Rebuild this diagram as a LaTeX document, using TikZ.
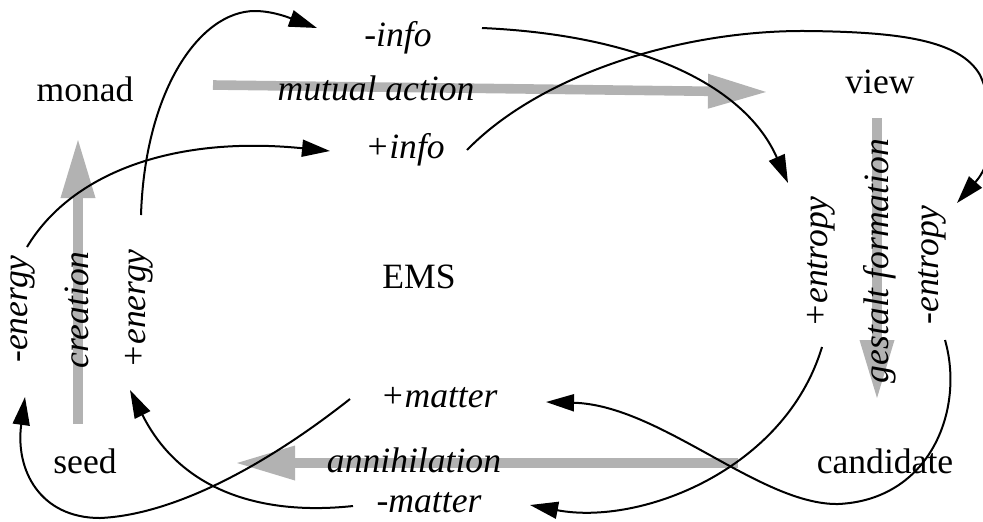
\documentclass[tikz,border=0pt]{standalone}
\usepackage{fontspec}
\setmainfont{Liberation Serif}
\usetikzlibrary{arrows.meta}

\tikzset{
  word/.style={font=\fontsize{17.8}{20}\selectfont, anchor=base, inner sep=0pt},
  term/.style={word, font=\fontsize{17.8}{20}\selectfont\itshape},
  up/.style={term, rotate=90},
  flow/.style={draw=black!30, line width=4.8pt, -{Triangle[length=30pt,width=16pt]}},
  link/.style={draw, line width=1pt, -{Triangle[length=14pt,width=8.5pt]}}
}

\begin{document}
\begin{tikzpicture}[x=0.5pt, y=-0.5pt]
\useasboundingbox (0,0) rectangle (983,521);
\coordinate (mon-r) at (213,85);  \coordinate (vw-l) at (768,92);
\coordinate (vw-d) at (877,118);  \coordinate (cnd-u) at (877,400);
\coordinate (cnd-l) at (738,463); \coordinate (sd-r) at (235,463);
\coordinate (sd-u) at (78,424);   \coordinate (mon-d) at (78,138);
\draw[flow] (mon-r) -- (vw-l);
\draw[flow] (vw-d) -- (cnd-u);
\draw[flow] (cnd-l) -- (sd-r);
\draw[flow] (sd-u) -- (mon-d);

\node[word] (monad) at (85,101) {monad};
\node[word] (view) at (880,93) {view};
\node[word] (seed) at (85,473) {seed};
\node[word] (cand) at (885,473) {candidate};
\node[word] (ems) at (419,288) {EMS};
\node[term] (minfo) at (398,46) {-info};
\node[term] (mutual) at (376,100) {mutual action};
\node[term] (pinfo) at (405,158) {+info};
\node[term] (pmatter) at (439,407) {+matter};
\node[term] (annih) at (414,472) {annihilation};
\node[term] (mmatter) at (429,512) {-matter};
\node[up] (menergy) at (27,309) {-energy};
\node[up] (creation) at (88,310) {creation};
\node[up] (penergy) at (145,309) {+energy};
\node[up] (pentropy) at (827,262) {+entropy};
\node[up] (gestalt) at (888,261) {gestalt formation};
\node[up] (mentropy) at (938,265) {-entropy};

\coordinate (penergy-o) at (141,215);  \coordinate (minfo-i) at (317,28);
\coordinate (menergy-o) at (27,247);   \coordinate (pinfo-i) at (330,151);
\coordinate (minfo-o) at (482,28);     \coordinate (pentropy-i) at (788,183);
\coordinate (pinfo-o) at (467,150);    \coordinate (mentropy-i) at (957,203);
\coordinate (pentropy-o) at (822,347); \coordinate (mmatter-i) at (530,505);
\coordinate (mentropy-o) at (945,340); \coordinate (pmatter-i) at (546,402);
\coordinate (pmatter-o) at (350,399);  \coordinate (menergy-i) at (25,397);
\coordinate (mmatter-o) at (353,506);  \coordinate (penergy-i) at (130,390);

\draw[link] (penergy-o) .. controls (145,90) and (200,11) .. (255,11) .. controls (275,11) and (295,20) .. (minfo-i);
\draw[link] (menergy-o) .. controls (70,175) and (170,135) .. (pinfo-i);
\draw[link] (minfo-o) .. controls (640,35) and (745,85) .. (pentropy-i);
\draw[link] (pinfo-o) .. controls (540,75) and (680,30) .. (807,31) .. controls (900,32) and (960,40) .. (980,75) .. controls (998,115) and (995,160) .. (mentropy-i);
\draw[link] (pentropy-o) .. controls (785,470) and (640,526) .. (mmatter-i);
\draw[link] (mentropy-o) .. controls (965,410) and (930,500) .. (838,504) .. controls (760,505) and (660,405) .. (pmatter-i);
\draw[link] (pmatter-o) .. controls (260,470) and (170,515) .. (100,518) .. controls (40,518) and (15,470) .. (menergy-i);
\draw[link] (mmatter-o) .. controls (260,516) and (180,490) .. (penergy-i);
\end{tikzpicture}
\end{document}
